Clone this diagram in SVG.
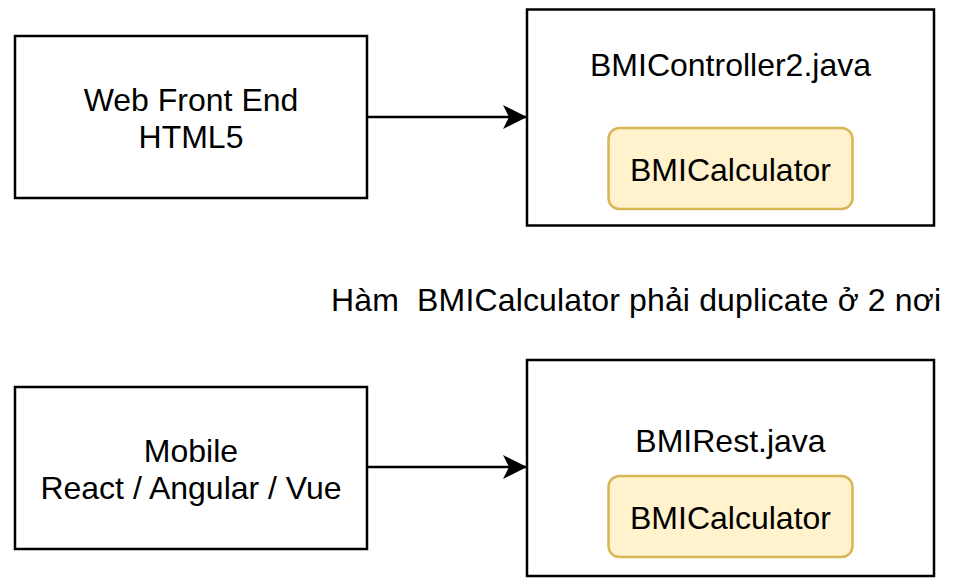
<svg xmlns="http://www.w3.org/2000/svg" width="957" height="585" viewBox="0 0 957 585">
<style>
.box{fill:#ffffff;stroke:#000000;stroke-width:2.5}
.inner{fill:#fff2cc;stroke:#d6b656;stroke-width:2.5}
.t{font-family:"Liberation Sans",Arial,Helvetica,sans-serif;font-size:32px;fill:#000000;text-anchor:middle}
.edge{fill:none;stroke:#000000;stroke-width:2.5}
</style>
<defs>
<marker id="arrow" markerUnits="userSpaceOnUse" markerWidth="30" markerHeight="30" viewBox="0 0 30 30" refX="26" refY="15" orient="auto">
<path d="M26,15 L2,3 L8,15 L2,27 Z" fill="#000000"/>
</marker>
</defs>
<rect width="957" height="585" fill="#ffffff"/>
<g id="web-front-end">
<rect class="box" x="15" y="36" width="352" height="162"/>
<text class="t" x="191" y="110.7">Web Front End</text>
<text class="t" x="191" y="148.3">HTML5</text>
</g>
<g id="bmi-controller2">
<rect class="box" x="527" y="9.5" width="407" height="216"/>
<text class="t" x="730.5" y="75.7">BMIController2.java</text>
</g>
<g id="bmi-calculator-1">
<rect class="inner" x="608.5" y="128" width="244" height="81" rx="11" ry="11"/>
<text class="t" x="730.5" y="180.7">BMICalculator</text>
</g>
<g id="note">
<text x="331" y="310.8" textLength="610" lengthAdjust="spacing" style="font-family:'Liberation Sans',Arial,sans-serif;font-size:32px;fill:#000000;white-space:pre" xml:space="preserve">Hàm  BMICalculator phải duplicate ở 2 nơi</text>
</g>
<g id="mobile">
<rect class="box" x="15" y="387" width="352" height="162"/>
<text class="t" x="191" y="461.7">Mobile</text>
<text class="t" x="191" y="499.3">React / Angular / Vue</text>
</g>
<g id="bmi-rest">
<rect class="box" x="527" y="360" width="407" height="216"/>
<text class="t" x="730.5" y="452.3">BMIRest.java</text>
</g>
<g id="bmi-calculator-2">
<rect class="inner" x="608.5" y="476" width="244" height="81" rx="11" ry="11"/>
<text class="t" x="730.5" y="529.3">BMICalculator</text>
</g>
<g id="connectors">
<line class="edge" x1="367" y1="117" x2="527" y2="117" marker-end="url(#arrow)"/>
<line class="edge" x1="367" y1="467" x2="527" y2="467" marker-end="url(#arrow)"/>
</g>
</svg>
